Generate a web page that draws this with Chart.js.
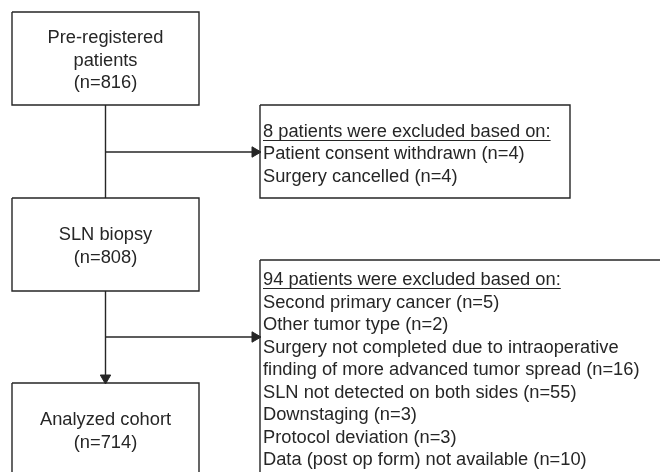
<!DOCTYPE html>
<html>
<head>
<meta charset="utf-8">
<script src="https://cdn.jsdelivr.net/npm/chart.js@4/dist/chart.umd.min.js"></script>
<style>
html, body { margin: 0; padding: 0; background: #fff; }
</style>
</head>
<body>
<canvas id="myChart" width="660" height="472"></canvas>
<script>
// flow stages and counts
var stageLabels = [['Pre-registered', 'patients'], ['SLN biopsy'], ['Analyzed cohort']];
var stageCounts = [816, 808, 714];

// exclusions between stages
var excludedTotals = [8, 94];
var reasons1 = ['Patient consent withdrawn', 'Surgery cancelled'];
var reasons1Counts = [4, 4];
var reasons2 = [
    'Second primary cancer',
    'Other tumor type',
    'Surgery not completed due to intraoperative\nfinding of more advanced tumor spread',
    'SLN not detected on both sides',
    'Downstaging',
    'Protocol deviation',
    'Data (post op form) not available'
];
var reasons2Counts = [5, 2, 16, 55, 3, 3, 10];

// box geometry in scale units [x0, y0, x1, y1]
var stageBoxes = [[12, 12, 199, 105], [12, 198, 199, 291], [12, 383, 199, 476]];
var exclBoxes = [[260, 105, 570, 198], [260, 260, 690, 475]];
var spineX = 105.5;
var branchY = [152, 337];
var lineHeight = 22.5;
var FONT = '18.3px "Liberation Sans", Arial, sans-serif';
var INK = '#262626';

function boxPath(b) {
    return [
        {x: b[0], y: b[1]}, {x: b[2], y: b[1]}, {x: b[2], y: b[3]},
        {x: b[0], y: b[3]}, {x: b[0], y: b[1]}
    ];
}

function exclLines(total, reasons, counts) {
    var lines = [];
    for (var i = 0; i < reasons.length; i++) {
        var parts = reasons[i].split('\n');
        parts[parts.length - 1] += ' (n=' + counts[i] + ')';
        lines = lines.concat(parts);
    }
    return {header: total + ' patients were excluded based on:', lines: lines};
}

function lineSet(points) {
    return {
        data: points,
        showLine: true,
        borderColor: INK,
        borderWidth: 1.4,
        pointRadius: 0,
        fill: false
    };
}

var datasets = [];
stageBoxes.concat(exclBoxes).forEach(function (b) {
    datasets.push(lineSet(boxPath(b)));
});
// vertical spine pieces
datasets.push(lineSet([{x: spineX, y: stageBoxes[0][3]}, {x: spineX, y: stageBoxes[1][1]}]));
datasets.push(lineSet([{x: spineX, y: stageBoxes[1][3]}, {x: spineX, y: stageBoxes[2][1] - 4}]));
// branches to exclusion boxes
for (var i = 0; i < branchY.length; i++) {
    datasets.push(lineSet([{x: spineX, y: branchY[i]}, {x: exclBoxes[i][0] - 4, y: branchY[i]}]));
}
// arrow heads
datasets.push({
    data: [
        {x: exclBoxes[0][0] - 5, y: branchY[0]},
        {x: exclBoxes[1][0] - 5, y: branchY[1]},
        {x: spineX, y: stageBoxes[2][1] - 5}
    ],
    showLine: false,
    pointStyle: 'triangle',
    rotation: [90, 90, 180],
    pointRadius: 6,
    backgroundColor: INK,
    borderColor: INK,
    borderWidth: 1
});

var textPlugin = {
    id: 'flowText',
    afterDatasetsDraw: function (chart) {
        var ctx = chart.ctx;
        var xs = chart.scales.x, ys = chart.scales.y;
        ctx.save();
        ctx.font = FONT;
        ctx.fillStyle = INK;
        ctx.strokeStyle = INK;
        ctx.textBaseline = 'middle';

        // stage boxes, centred text
        ctx.textAlign = 'center';
        stageBoxes.forEach(function (b, i) {
            var lines = stageLabels[i].concat('(n=' + stageCounts[i] + ')');
            var cx = xs.getPixelForValue((b[0] + b[2]) / 2);
            var cy = (b[1] + b[3]) / 2 + 2;
            var top = cy - (lines.length - 1) * lineHeight / 2;
            lines.forEach(function (t, k) {
                ctx.fillText(t, cx, ys.getPixelForValue(top + k * lineHeight));
            });
        });

        // exclusion boxes, left aligned with underlined header
        ctx.textAlign = 'left';
        var excl = [
            exclLines(excludedTotals[0], reasons1, reasons1Counts),
            exclLines(excludedTotals[1], reasons2, reasons2Counts)
        ];
        exclBoxes.forEach(function (b, i) {
            var all = [excl[i].header].concat(excl[i].lines);
            var cy = (b[1] + b[3]) / 2 + 2.5;
            var top = cy - (all.length - 1) * lineHeight / 2;
            var x = xs.getPixelForValue(b[0] + 3);
            all.forEach(function (t, k) {
                var y = ys.getPixelForValue(top + k * lineHeight);
                ctx.fillText(t, x, y);
                if (k === 0) {
                    var w = ctx.measureText(t).width;
                    ctx.lineWidth = 1;
                    ctx.beginPath();
                    ctx.moveTo(x, Math.round(y + 8) + 0.5);
                    ctx.lineTo(x + w, Math.round(y + 8) + 0.5);
                    ctx.stroke();
                }
            });
        });
        ctx.restore();
    }
};

var ctx = document.getElementById('myChart').getContext('2d');
var myChart = new Chart(ctx, {
    type: 'scatter',
    data: {datasets: datasets},
    options: {
        responsive: false,
        animation: false,
        devicePixelRatio: 1,
        layout: {padding: 0, autoPadding: false},
        plugins: {legend: {display: false}, tooltip: {enabled: false}},
        scales: {
            x: {type: 'linear', min: 0, max: 660, display: false},
            y: {type: 'linear', min: 0, max: 472, reverse: true, display: false}
        }
    },
    plugins: [textPlugin]
});
</script>
</body>
</html>
